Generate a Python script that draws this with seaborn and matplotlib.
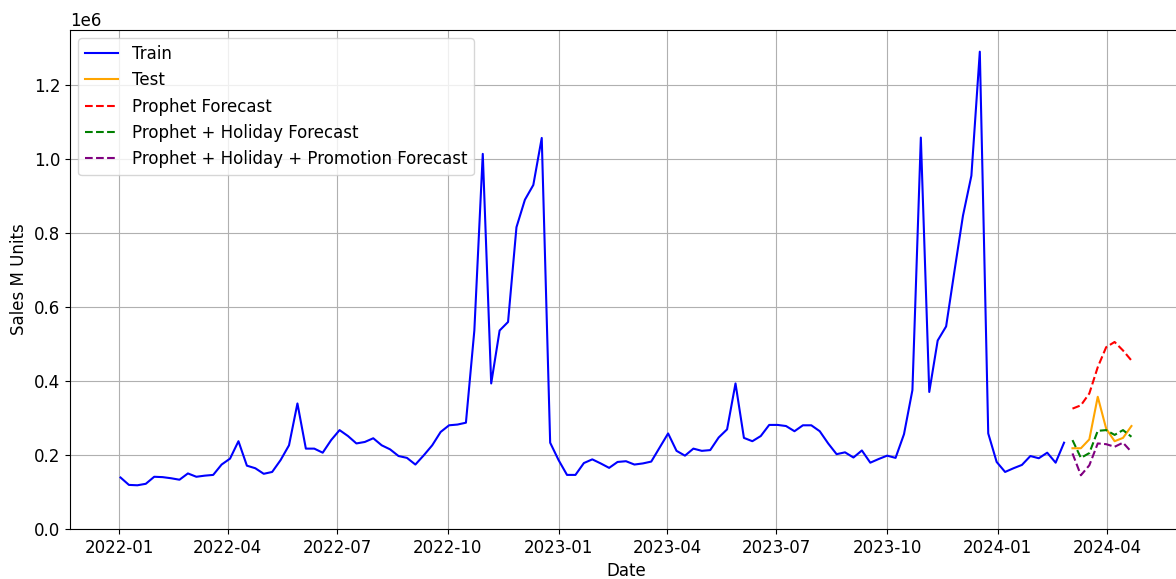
import numpy as np
import pandas as pd
import matplotlib
matplotlib.use("Agg")
import matplotlib.pyplot as plt
import seaborn as sns

plt.rcParams["font.size"] = 12

# Weekly sales (units), training period
train_start = "2022-01-02"
train_sales = [
    139000, 119000, 118000, 122000, 141000, 140000, 137000, 133000, 150000, 141000,
    144000, 146000, 174000, 190000, 237000, 171000, 164000, 149000, 154000, 186000,
    226000, 339000, 217000, 217000, 206000, 240000, 267000, 251000, 231000, 235000,
    245000, 226000, 215000, 197000, 192000, 174000, 199000, 226000, 262000, 280000,
    282000, 287000, 536000, 1013000, 393000, 536000, 559000, 815000, 889000, 929000,
    1056000, 233000, 186000, 146000, 146000, 178000, 188000, 177000, 165000, 181000,
    183000, 174000, 177000, 182000, 220000, 258000, 211000, 198000, 217000, 211000,
    213000, 247000, 269000, 393000, 246000, 237000, 251000, 281000, 281000, 278000,
    264000, 280000, 280000, 264000, 231000, 202000, 207000, 193000, 212000, 179000,
    189000, 198000, 192000, 256000, 375000, 1057000, 370000, 509000, 547000, 698000,
    846000, 954000, 1289000, 258000, 181000, 154000, 164000, 173000, 197000, 191000,
    206000, 179000, 233000,
]

# Hold-out period and model forecasts
test_start = "2024-03-03"
test_sales = [218000, 218000, 242000, 357000, 271000, 237000, 246000, 278000]
prophet_fc = [325000, 334000, 366000, 437000, 491000, 505000, 482000, 455000]
holiday_fc = [240000, 192000, 205000, 265000, 267000, 254000, 267000, 249000]
promo_fc = [204000, 145000, 172000, 231000, 229000, 222000, 233000, 208000]

train = pd.DataFrame({
    "Date": pd.date_range(train_start, periods=len(train_sales), freq="7D"),
    "Sales": train_sales,
})
test = pd.DataFrame({
    "Date": pd.date_range(test_start, periods=len(test_sales), freq="7D"),
    "Sales": test_sales,
    "Prophet": prophet_fc,
    "Holiday": holiday_fc,
    "Promo": promo_fc,
})

fig = plt.figure(figsize=(11.76, 5.79), dpi=100)
ax = fig.add_axes([0.0595, 0.0864, 0.9456, 0.8618])

sns.lineplot(data=train, x="Date", y="Sales", color="blue", label="Train", ax=ax)
sns.lineplot(data=test, x="Date", y="Sales", color="orange", label="Test", ax=ax)
sns.lineplot(data=test, x="Date", y="Prophet", color="red", linestyle="--",
             label="Prophet Forecast", ax=ax)
sns.lineplot(data=test, x="Date", y="Holiday", color="green", linestyle="--",
             label="Prophet + Holiday Forecast", ax=ax)
sns.lineplot(data=test, x="Date", y="Promo", color="purple", linestyle="--",
             label="Prophet + Holiday + Promotion Forecast", ax=ax)

ax.set_ylim(bottom=0)
ax.set_xlabel("Date")
ax.set_ylabel("Sales M Units")
ax.grid(True)
ax.legend(loc="upper left")

fig.savefig("out.png", dpi=100)
